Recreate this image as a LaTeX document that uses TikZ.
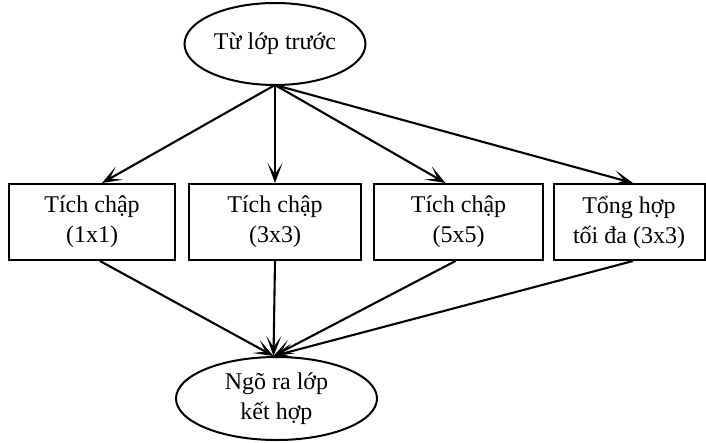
\documentclass[tikz,border=0pt]{standalone}
\usepackage{fontspec}
\setmainfont{Liberation Serif}
\usetikzlibrary{arrows.meta,shapes.geometric}
\begin{document}
\begin{tikzpicture}[x=1pt,y=-1pt,
  every node/.style={font=\fontsize{24}{30}\selectfont, align=center, line width=2pt, inner sep=0pt},
  oval/.style={draw, ellipse},
  boxnode/.style={draw, rectangle, minimum height=76pt},
  arr/.style={line width=2.1pt, -{Stealth[length=20pt,width=15pt,inset=11pt]}}]
\useasboundingbox (0,0) rectangle (706,442);
\node[oval, minimum width=181pt, minimum height=82pt] (top) at (275,44) {Từ lớp trước};
\node[boxnode, minimum width=166pt] (b1) at (92,222) {Tích chập\\(1x1)};
\node[boxnode, minimum width=172pt] (b2) at (275,222) {Tích chập\\(3x3)};
\node[boxnode, minimum width=169pt] (b3) at (458.5,222) {Tích chập\\(5x5)};
\node[boxnode, minimum width=151pt] (b4) at (629,222) {Tổng hợp\\tối đa (3x3)};
\node[oval, minimum width=201pt, minimum height=83pt] (out) at (276.5,398.5) {Ngõ ra lớp\\kết hợp};
\draw[arr] ([yshift=1pt]top.south) -- ([xshift=10pt]b1.north);
\draw[arr] ([yshift=1pt]top.south) -- (b2.north);
\draw[arr] ([yshift=1pt]top.south) -- ([xshift=-13pt]b3.north);
\draw[arr] ([yshift=1pt]top.south) -- ([xshift=4pt]b4.north);
\draw[arr] ([xshift=8pt]b1.south) -- ([xshift=-3pt]out.north);
\draw[arr] (b2.south) -- ([xshift=-3pt]out.north);
\draw[arr] ([xshift=-3pt]b3.south) -- ([xshift=-3pt]out.north);
\draw[arr] ([xshift=4pt]b4.south) -- ([xshift=-3pt]out.north);
\end{tikzpicture}
\end{document}
